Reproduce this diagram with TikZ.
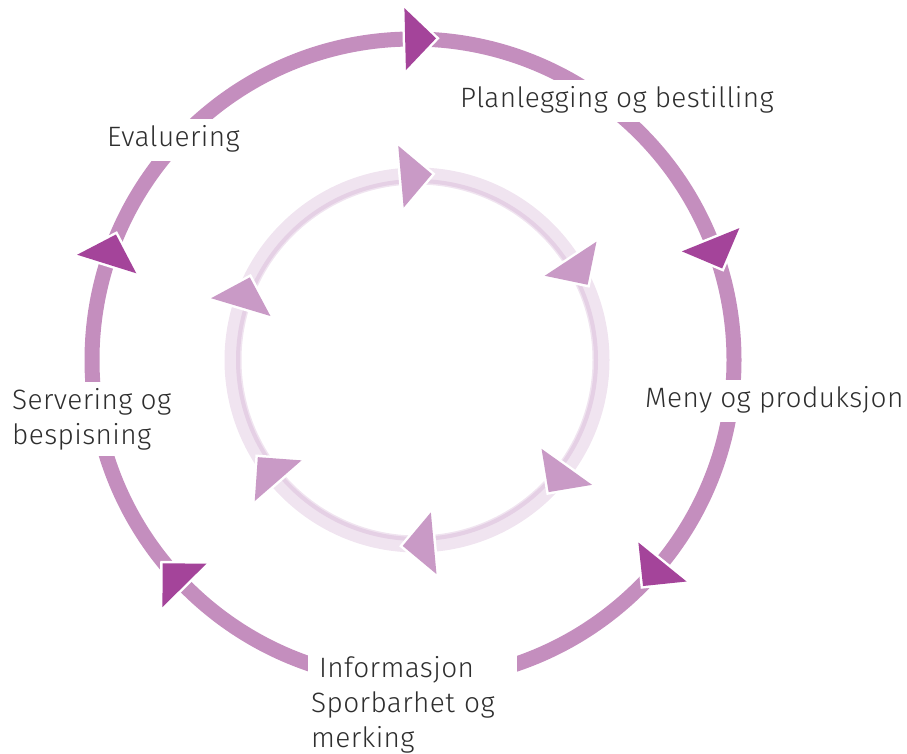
\documentclass[tikz,border=0pt]{standalone}
\usepackage{fontspec}
\setmainfont{Fira Sans Light}[LetterSpace=1.4]
\usetikzlibrary{calc}

\definecolor{ringpurple}{HTML}{C48EBE}
\definecolor{arrowpurple}{HTML}{A4449A}
\definecolor{innerarrow}{HTML}{C99AC6}
\definecolor{bandpale}{HTML}{F0E4F0}
\definecolor{bandline}{HTML}{E5D0E5}
\definecolor{labelgray}{HTML}{2E2E2E}

\providecommand{\labelfont}{\fontsize{28}{35}\selectfont}

\tikzset{
  steplabel/.style={fill=white, text=labelgray, inner xsep=3pt, inner ysep=6pt, font=\labelfont},
  oneline/.style={text height=22pt, text depth=8pt},
  whiteedge/.style={preaction={draw=white, line width=5pt, line join=miter}}
}

\begin{document}
\begin{tikzpicture}[x=1pt, y=1pt]
    \pgfmathsetmacro{\outerradius}{321}
    \pgfmathsetmacro{\innerradius}{184}
    \pgfmathsetmacro{\arrowhalf}{31}
    \pgfmathsetmacro{\outerturn}{5.5}  % tip offset in degrees
    \pgfmathsetmacro{\innerturn}{9.6}
    \useasboundingbox (0,0) rectangle (907,753);
    \coordinate (outerc) at (413,393);
    \coordinate (innerc) at (417,393);
    % inner ring
    \draw[bandpale, line width=17pt] (innerc) circle[radius=\innerradius];
    \draw[bandline, line width=4pt] (innerc) circle[radius=\innerradius-5];
    % outer ring
    \draw[ringpurple, line width=15pt] (outerc) circle[radius=\outerradius];
    \begin{scope}[shift={(outerc)}]
        \foreach \a in {91.4,22,-39,-135.4,162.6}
            \fill[arrowpurple, whiteedge] ({\a}:{\outerradius+\arrowhalf}) -- ({\a}:{\outerradius-\arrowhalf}) -- ({\a-\outerturn}:{\outerradius+1.5}) -- cycle;
    \end{scope}
    \begin{scope}[shift={(innerc)}]
        \foreach \a in {95,33.4,-35.5,-84.8,221,163.3}
            \fill[innerarrow, whiteedge] ({\a}:{\innerradius+\arrowhalf}) -- ({\a}:{\innerradius-\arrowhalf}) -- ({\a-\innerturn}:{\innerradius+2.5}) -- cycle;
    \end{scope}
    % labels, white boxes cut the ring
    \node[steplabel, oneline, anchor=base west] (plan) at (457,645) {Planlegging og bestilling};
    \node[steplabel, oneline, anchor=base west] (eval) at (104,606) {Evaluering};
    \node[steplabel, oneline, anchor=base west] (meny) at (642,345) {Meny og produksjon};
    \node[steplabel, anchor=north west, align=left] (serv) at (9,371) {Servering og\\bespisning};
    \node[steplabel, anchor=north west, align=left, text width=203pt] (info) at (308,103)
        {\hspace*{8pt}Informasjon\\Sporbarhet og\\merking};
\end{tikzpicture}
\end{document}
